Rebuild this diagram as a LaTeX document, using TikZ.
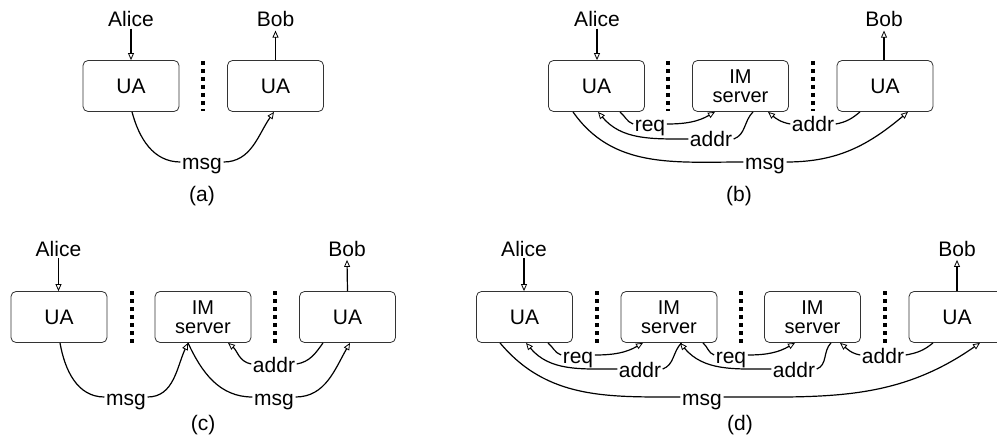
\documentclass[tikz,border=0pt]{standalone}
\usepackage{fontspec}
\setmainfont{Liberation Sans}
\usetikzlibrary{arrows.meta}
\tikzset{
  box/.style={draw=black!80, line width=0.8pt, rounded corners=5pt, minimum width=96pt, minimum height=51pt, inner sep=0pt, font=\fontsize{21}{17}\selectfont, align=center},
  imbox/.style={box, font=\fontsize{20}{18.5}\selectfont},
  txt/.style={inner sep=1.5pt, font=\fontsize{21}{21}\selectfont, anchor=base},
  lbl/.style={inner sep=1.5pt, font=\fontsize{21}{21}\selectfont, anchor=base, text height=16pt, text depth=0pt},
  conn/.style={line width=1.2pt},
  arr/.style={line width=1.2pt, -{Triangle[open, length=7pt, width=6pt, line width=0.8pt]}},
  sepline/.style={line width=3.8pt, dash pattern=on 4pt off 4pt},
}
\begin{document}
\begin{tikzpicture}[x=1pt, y=1pt]
\clip (0,0) rectangle (997,-441);
\fill[white] (0,0) rectangle (997,-441);

% ---------- (a) ----------
\node[box] (ua_a1) at (131,-86) {UA};
\node[box] (ua_a2) at (275.5,-86) {UA};
\node[txt] (alice_a) at (131,-26.7) {Alice};
\node[txt] (bob_a) at (275.5,-26.7) {Bob};
\node[lbl] (msg_a) at (202,-170) {msg};
\node[txt] (cap_a) at (202,-202) {(a)};
\draw[sepline] (203,-61) -- (203,-111);
\draw[arr] (alice_a.south) -- (ua_a1.north);
\draw[arr] (ua_a2.north) -- ([yshift=-2pt]bob_a.south);
\draw[conn] ([xshift=1pt]ua_a1.south) to[out=-75, in=180] (msg_a.west);
\draw[arr] (msg_a.east) to[out=0, in=-125] ([xshift=-1.5pt]ua_a2.south);

% ---------- (b) ----------
\node[box] (ua_b1) at (596.5,-86) {UA};
\node[imbox] (im_b) at (740.5,-86) {IM\\server};
\node[box] (ua_b2) at (885,-86) {UA};
\node[txt] (alice_b) at (597,-26.7) {Alice};
\node[txt] (bob_b) at (884,-26.7) {Bob};
\node[lbl] (req_b) at (650,-132) {req};
\node[lbl] (addr_b1) at (711,-147) {addr};
\node[lbl] (addr_b2) at (813,-132) {addr};
\node[lbl] (msg_b) at (765,-170) {msg};
\node[txt] (cap_b) at (739,-202) {(b)};
\draw[sepline] (668,-61) -- (668,-111);
\draw[sepline] (813,-61) -- (813,-111);
\draw[arr] (alice_b.south) -- ([xshift=0.5pt]ua_b1.north);
\draw[arr] ([xshift=-1pt]ua_b2.north) -- ([yshift=-2pt]bob_b.south);
\draw[conn] ([xshift=23.5pt]ua_b1.south) to[out=-40, in=160] (req_b.west);
\draw[arr] (req_b.east) to[out=0, in=-150] ([xshift=-25.5pt]im_b.south);
\draw[conn] ([xshift=12.5pt]im_b.south) to[out=-135, in=20] (addr_b1.east);
\draw[arr] (addr_b1.west) to[out=180, in=-50] ([xshift=1.5pt]ua_b1.south);
\draw[conn] ([xshift=-25pt]ua_b2.south) to[out=-140, in=10] (addr_b2.east);
\draw[arr] (addr_b2.west) to[out=170, in=-40] ([xshift=27.5pt]im_b.south);
\draw[conn] ([xshift=-23.5pt]ua_b1.south) to[out=-55, in=180] (msg_b.west);
\draw[arr] (msg_b.east) to[out=0, in=-140] ([xshift=23pt]ua_b2.south);

% ---------- (c) ----------
\node[box] (ua_c1) at (59,-317) {UA};
\node[imbox] (im_c) at (203,-317) {IM\\server};
\node[box] (ua_c2) at (347.5,-317) {UA};
\node[txt] (alice_c) at (58.5,-256) {Alice};
\node[txt] (bob_c) at (347,-256) {Bob};
\node[lbl] (msg_c1) at (126,-405) {msg};
\node[lbl] (msg_c2) at (274,-405) {msg};
\node[lbl] (addr_c) at (274,-372) {addr};
\node[txt] (cap_c) at (203,-430) {(c)};
\draw[sepline] (132,-291) -- (132,-343);
\draw[sepline] (275,-291) -- (275,-343);
\draw[arr] (alice_c.south) -- ([xshift=-0.5pt]ua_c1.north);
\draw[arr] (ua_c2.north) -- ([yshift=-2pt]bob_c.south);
\draw[conn] ([xshift=1pt]ua_c1.south) to[out=-80, in=180] (msg_c1.west);
\draw[arr] (msg_c1.east) to[out=0, in=-115] ([xshift=-15pt]im_c.south);
\draw[conn] ([xshift=-15pt]im_c.south) to[out=-65, in=180] (msg_c2.west);
\draw[arr] (msg_c2.east) to[out=0, in=-120] ([xshift=2.5pt]ua_c2.south);
\draw[conn] ([xshift=-24.5pt]ua_c2.south) to[out=-125, in=10] (addr_c.east);
\draw[arr] (addr_c.west) to[out=170, in=-40] ([xshift=25pt]im_c.south);

% ---------- (d) ----------
\node[box] (ua_d1) at (524.5,-317) {UA};
\node[imbox] (im_d1) at (669,-317) {IM\\server};
\node[imbox] (im_d2) at (812.5,-317) {IM\\server};
\node[box] (ua_d2) at (957,-317) {UA};
\node[txt] (alice_d) at (524,-256) {Alice};
\node[txt] (bob_d) at (957,-256) {Bob};
\node[lbl] (req_d1) at (578,-363) {req};
\node[lbl] (addr_d1) at (640,-377) {addr};
\node[lbl] (req_d2) at (731,-363) {req};
\node[lbl] (addr_d2) at (794,-377) {addr};
\node[lbl] (addr_d3) at (883,-363) {addr};
\node[lbl] (msg_d) at (702,-405) {msg};
\node[txt] (cap_d) at (740,-430) {(d)};
\draw[sepline] (597,-291) -- (597,-343);
\draw[sepline] (741,-291) -- (741,-343);
\draw[sepline] (885,-291) -- (885,-343);
\draw[arr] (alice_d.south) -- ([xshift=-0.5pt]ua_d1.north);
\draw[arr] (ua_d2.north) -- ([yshift=-2pt]bob_d.south);
\draw[conn] ([xshift=23.5pt]ua_d1.south) to[out=-40, in=160] (req_d1.west);
\draw[arr] (req_d1.east) to[out=0, in=-150] ([xshift=-26pt]im_d1.south);
\draw[conn] ([xshift=12.5pt]im_d1.south) to[out=-135, in=20] (addr_d1.east);
\draw[arr] (addr_d1.west) to[out=180, in=-50] ([xshift=1.5pt]ua_d1.south);
\draw[conn] ([xshift=34pt]im_d1.south) to[out=-40, in=160] (req_d2.west);
\draw[arr] (req_d2.east) to[out=0, in=-150] ([xshift=-17.5pt]im_d2.south);
\draw[conn] ([xshift=18.5pt]im_d2.south) to[out=-135, in=20] (addr_d2.east);
\draw[arr] (addr_d2.west) to[out=180, in=-50] ([xshift=11pt]im_d1.south);
\draw[conn] ([xshift=-24pt]ua_d2.south) to[out=-140, in=10] (addr_d3.east);
\draw[arr] (addr_d3.west) to[out=170, in=-40] ([xshift=27.5pt]im_d2.south);
\draw[conn] ([xshift=-24.5pt]ua_d1.south) to[out=-50, in=180] (msg_d.west);
\draw[arr] (msg_d.east) to[out=0, in=-145] ([xshift=23pt]ua_d2.south);
\end{tikzpicture}
\end{document}
